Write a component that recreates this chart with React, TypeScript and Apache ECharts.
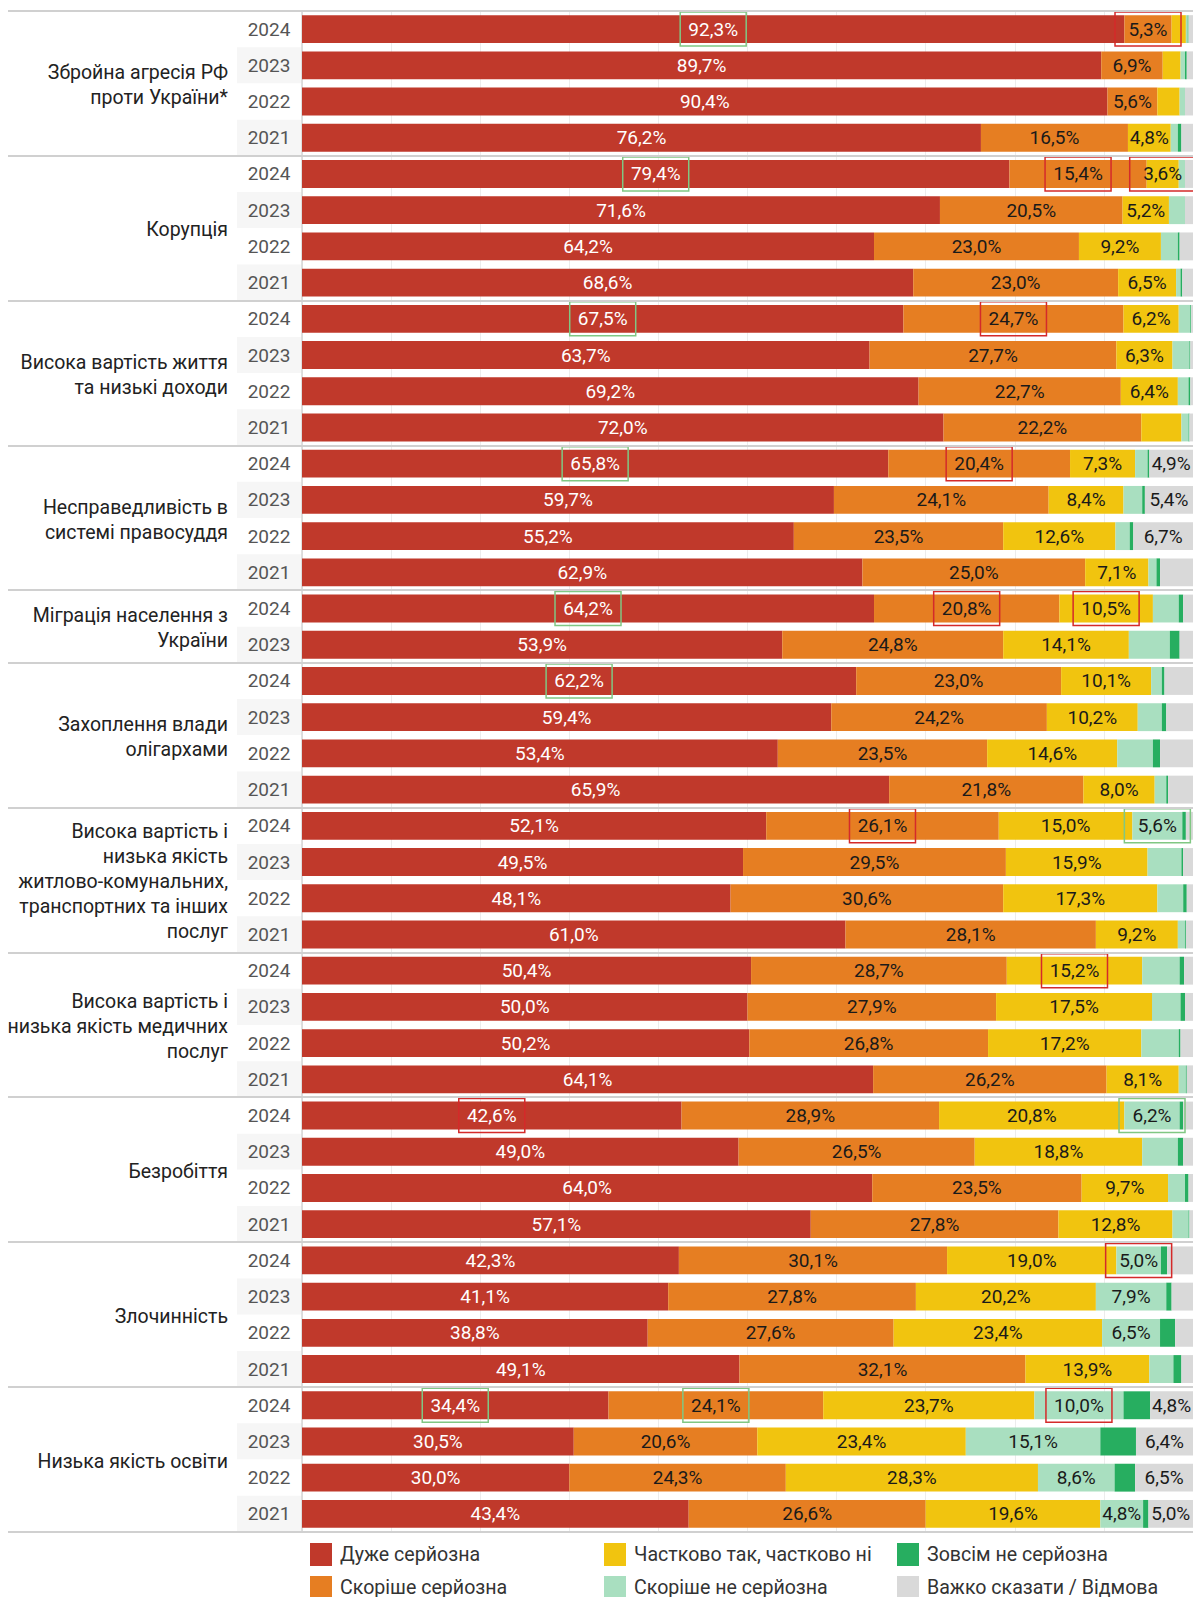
import React, { useEffect, useRef } from "react";
import * as echarts from "echarts";

// ---- Data ----
const groupLabels = [
  "Збройна агресія РФ\nпроти України*",
  "Корупція",
  "Висока вартість життя\nта низькі доходи",
  "Несправедливість в\nсистемі правосуддя",
  "Міграція населення з\nУкраїни",
  "Захоплення влади\nолігархами",
  "Висока вартість і\nнизька якість\nжитлово-комунальних,\nтранспортних та інших\nпослуг",
  "Висока вартість і\nнизька якість медичних\nпослуг",
  "Безробіття",
  "Злочинність",
  "Низька якість освіти",
];

const groupYears = [
  ["2024", "2023", "2022", "2021"],
  ["2024", "2023", "2022", "2021"],
  ["2024", "2023", "2022", "2021"],
  ["2024", "2023", "2022", "2021"],
  ["2024", "2023"],
  ["2024", "2023", "2022", "2021"],
  ["2024", "2023", "2022", "2021"],
  ["2024", "2023", "2022", "2021"],
  ["2024", "2023", "2022", "2021"],
  ["2024", "2023", "2022", "2021"],
  ["2024", "2023", "2022", "2021"],
];

const seriesNames = [
  "Дуже серйозна",
  "Скоріше серйозна",
  "Частково так, частково ні",
  "Скоріше не серйозна",
  "Зовсім не серйозна",
  "Важко сказати / Відмова",
];

const verySerious = [
  92.3, 89.7, 90.4, 76.2,
  79.4, 71.6, 64.2, 68.6,
  67.5, 63.7, 69.2, 72.0,
  65.8, 59.7, 55.2, 62.9,
  64.2, 53.9,
  62.2, 59.4, 53.4, 65.9,
  52.1, 49.5, 48.1, 61.0,
  50.4, 50.0, 50.2, 64.1,
  42.6, 49.0, 64.0, 57.1,
  42.3, 41.1, 38.8, 49.1,
  34.4, 30.5, 30.0, 43.4,
];
const ratherSerious = [
  5.3, 6.9, 5.6, 16.5,
  15.4, 20.5, 23.0, 23.0,
  24.7, 27.7, 22.7, 22.2,
  20.4, 24.1, 23.5, 25.0,
  20.8, 24.8,
  23.0, 24.2, 23.5, 21.8,
  26.1, 29.5, 30.6, 28.1,
  28.7, 27.9, 26.8, 26.2,
  28.9, 26.5, 23.5, 27.8,
  30.1, 27.8, 27.6, 32.1,
  24.1, 20.6, 24.3, 26.6,
];
const partly = [
  1.6, 2.0, 2.5, 4.8,
  3.6, 5.2, 9.2, 6.5,
  6.2, 6.3, 6.4, 4.5,
  7.3, 8.4, 12.6, 7.1,
  10.5, 14.1,
  10.1, 10.2, 14.6, 8.0,
  15.0, 15.9, 17.3, 9.2,
  15.2, 17.5, 17.2, 8.1,
  20.8, 18.8, 9.7, 12.8,
  19.0, 20.2, 23.4, 13.9,
  23.7, 23.4, 28.3, 19.6,
];
const ratherNot = [
  0.2, 0.5, 0.6, 0.8,
  0.7, 1.8, 1.9, 0.5,
  1.3, 1.9, 1.2, 0.8,
  1.4, 2.1, 1.6, 0.9,
  2.9, 4.6,
  1.2, 2.7, 4.0, 1.3,
  5.6, 3.8, 2.9, 0.8,
  4.2, 3.2, 4.2, 0.8,
  6.2, 4.0, 1.9, 1.8,
  5.0, 7.9, 6.5, 2.7,
  10.0, 15.1, 8.6, 4.8,
];
const notAtAll = [
  0.1, 0.2, 0.0, 0.4,
  0.0, 0.0, 0.2, 0.2,
  0.1, 0.1, 0.2, 0.1,
  0.2, 0.3, 0.4, 0.4,
  0.5, 1.1,
  0.3, 0.5, 0.8, 0.2,
  0.4, 0.2, 0.4, 0.1,
  0.5, 0.5, 0.2, 0.1,
  0.4, 0.6, 0.4, 0.1,
  0.7, 0.6, 1.7, 0.9,
  3.0, 4.0, 2.3, 0.6,
];
const hardToSay = [
  0.5, 0.7, 0.9, 1.3,
  0.9, 0.9, 1.5, 1.2,
  0.2, 0.3, 0.3, 0.4,
  4.9, 5.4, 6.7, 3.7,
  1.1, 1.5,
  3.2, 3.0, 3.7, 2.8,
  0.8, 1.1, 0.7, 0.8,
  1.0, 0.9, 1.4, 0.7,
  1.1, 1.1, 0.5, 0.4,
  2.9, 2.4, 2.0, 1.3,
  4.8, 6.4, 6.5, 5.0,
];

// highlighted (boxed) values: [row, series, kind]
const highlights: [number, number, string][] = [
  [0, 0, "g"], [0, 1, "r"],
  [4, 0, "g"], [4, 1, "r"], [4, 2, "r"],
  [8, 0, "g"], [8, 1, "r"],
  [12, 0, "g"], [12, 1, "r"],
  [16, 0, "g"], [16, 1, "r"], [16, 2, "r"],
  [18, 0, "g"],
  [22, 1, "r"], [22, 3, "g"],
  [26, 2, "r"],
  [30, 0, "r"], [30, 3, "g"],
  [34, 3, "r"],
  [38, 0, "g"], [38, 1, "g"], [38, 3, "r"],
];

const colors = ["#c0392b", "#e67e22", "#f1c40f", "#a9dfc0", "#27ae60", "#d9d9d9"];

export default function App() {
  const ref = useRef<HTMLDivElement>(null);

  useEffect(() => {
    if (!ref.current) return;
    const chart = echarts.init(ref.current, null, { renderer: "svg" });

    const values = [verySerious, ratherSerious, partly, ratherNot, notAtAll, hardToSay];
    const rowKeys: string[] = [];
    const groupStarts: number[] = [];
    groupYears.forEach((ys, g) => {
      groupStarts.push(rowKeys.length);
      ys.forEach((y) => rowKeys.push(g + "|" + y));
    });
    const nRows = rowKeys.length;

    const TOP = 11;
    const HEIGHT = 1521;
    const LEFT = 302;
    const rowH = HEIGHT / nRows;
    const FONT = "Roboto";

    const hl: Record<string, string> = {};
    highlights.forEach(([r, s, k]) => (hl[r + "_" + s] = k));

    const fmt = (v: number) => v.toFixed(1).replace(".", ",") + "%";

    const series = values.map((arr, s) => ({
      name: seriesNames[s],
      type: "bar",
      stack: "total",
      barWidth: "77%",
      xAxisIndex: 0,
      yAxisIndex: 0,
      itemStyle: { color: colors[s] },
      label: {
        show: true,
        position: "inside",
        fontFamily: FONT,
        fontSize: 19,
        color: s === 0 ? "#ffffff" : "#1a1a1a",
        formatter: (p: any) => fmt(p.value),
      },
      data: arr.map((v, r) => {
        const k = hl[r + "_" + s];
        if (k) {
          return {
            value: v,
            label: {
              show: true,
              borderColor: k === "r" ? "#d42a2a" : "#80c783",
              borderWidth: 1.5,
              padding: [6, 8, 6, 8],
              width: 50,
              height: 22,
              lineHeight: 22,
              align: "center",
              verticalAlign: "middle",
            },
          };
        }
        return { value: v, label: { show: v >= 4.7 } };
      }),
    }));

    const graphics: any[] = [];
    const bounds = [...groupStarts, nRows];
    bounds.forEach((b) => {
      const y = Math.round(TOP + b * rowH);
      graphics.push({
        type: "line",
        silent: true,
        z: 10,
        shape: { x1: 8, y1: y, x2: 1193, y2: y },
        style: { stroke: "#d0d0d0", lineWidth: 2 },
      });
    });
    groupLabels.forEach((lab, g) => {
      const cy = TOP + (groupStarts[g] + groupYears[g].length / 2) * rowH + 1.5;
      graphics.push({
        type: "text",
        silent: true,
        x: 228,
        y: cy,
        style: {
          text: lab,
          align: "right",
          textAlign: "right",
          verticalAlign: "middle",
          textVerticalAlign: "middle",
          fontFamily: FONT,
          fontSize: 19.5,
          lineHeight: 25,
          fill: "#222222",
        },
      });
    });

    const legendPos = [
      [310, 1543],
      [310, 1576],
      [604, 1543],
      [604, 1576],
      [897, 1543],
      [897, 1576],
    ];
    const legends = seriesNames.map((n, i) => ({
      data: [n],
      left: legendPos[i][0],
      top: legendPos[i][1],
      itemWidth: 22,
      itemHeight: 23,
      icon: "rect",
      selectedMode: false,
      padding: 0,
      textStyle: { fontFamily: FONT, fontSize: 19.6, color: "#333333", padding: [0, 0, 0, 3] },
    }));

    const option: any = {
      animation: false,
      backgroundColor: "#ffffff",
      textStyle: { fontFamily: FONT },
      color: colors,
      legend: legends,
      grid: [
        { left: LEFT, right: 0, top: TOP, height: HEIGHT, containLabel: false },
        { left: 237, width: LEFT - 237, top: TOP, height: HEIGHT, containLabel: false },
      ],
      xAxis: [
        {
          type: "value",
          gridIndex: 0,
          min: 0,
          max: 100,
          interval: 10,
          axisLabel: { show: false },
          axisLine: { show: false },
          axisTick: { show: false },
          splitLine: { show: true, lineStyle: { color: "#ececec", width: 1 } },
        },
        {
          type: "value",
          gridIndex: 1,
          min: 0,
          max: 1,
          axisLabel: { show: false },
          axisLine: { show: false },
          axisTick: { show: false },
          splitLine: { show: false },
        },
      ],
      yAxis: [
        {
          type: "category",
          gridIndex: 0,
          inverse: true,
          data: rowKeys,
          axisTick: { show: false },
          axisLine: { show: true, lineStyle: { color: "#d6d6d6", width: 1.5 } },
          axisLabel: {
            show: true,
            interval: 0,
            align: "center",
            margin: 33,
            fontFamily: FONT,
            fontSize: 19,
            color: "#555555",
            formatter: (v: string) => v.split("|")[1],
          },
          splitLine: { show: false },
        },
        {
          type: "category",
          gridIndex: 1,
          inverse: true,
          data: rowKeys,
          axisTick: { show: false },
          axisLine: { show: false },
          axisLabel: { show: false },
          splitLine: { show: false },
          splitArea: { show: true, interval: 0, areaStyle: { color: ["#ffffff", "#f6f6f6"] } },
        },
      ],
      graphic: graphics,
      series,
    };

    chart.setOption(option);
    return () => chart.dispose();
  }, []);

  return (
    <div
      ref={ref}
      style={{ position: "absolute", left: 0, top: 0, width: 1193, height: 1597 }}
    />
  );
}
